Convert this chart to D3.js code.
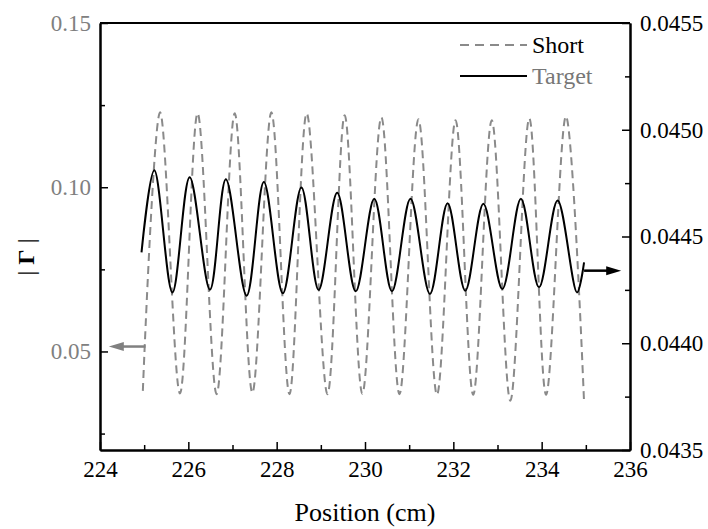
<!DOCTYPE html>
<html>
<head>
<meta charset="utf-8">
<script src="https://cdn.jsdelivr.net/npm/d3@7"></script>
<style>
  body { margin: 0; background: #fff; }
  svg text { font-family: 'Liberation Serif', serif; }
</style>
</head>
<body>
<div class="container"></div>
<script>

// Short (dashed, left axis) - position in cm, |Gamma|
var shortX = [224.97, 225.36, 225.81, 226.21, 226.64, 227.05, 227.45, 227.88, 228.29, 228.68,
              229.15, 229.54, 229.94, 230.37, 230.78, 231.21, 231.63, 232.05, 232.45, 232.87,
              233.29, 233.72, 234.10, 234.55, 234.96];
var shortY = [0.0380, 0.1228, 0.0372, 0.1225, 0.0370, 0.1225, 0.0374, 0.1228, 0.0370, 0.1225,
              0.0370, 0.1219, 0.0371, 0.1213, 0.0370, 0.1207, 0.0368, 0.1204, 0.0368, 0.1204,
              0.0350, 0.1210, 0.0368, 0.1216, 0.0345];

// Target (solid, right axis)
var targetX = [224.94, 225.23, 225.64, 226.03, 226.49, 226.85, 227.32, 227.71, 228.14, 228.56,
               228.95, 229.37, 229.79, 230.21, 230.61, 231.03, 231.47, 231.87, 232.27, 232.68,
               233.11, 233.53, 233.94, 234.36, 234.80, 234.96];
var targetY = [0.044426, 0.044810, 0.044238, 0.044778, 0.044251, 0.044768, 0.044223, 0.044755, 0.044234, 0.044730,
               0.044250, 0.044705, 0.044243, 0.044677, 0.044243, 0.044677, 0.044231, 0.044656, 0.044246, 0.044653,
               0.044254, 0.044677, 0.044262, 0.044669, 0.044238, 0.044379];

var xTicks = [224, 226, 228, 230, 232, 234, 236];
var xMinor = [225, 227, 229, 231, 233, 235];
var leftTicks = [0.05, 0.10, 0.15];
var leftMinor = [0.025, 0.075, 0.125];
var rightTicks = [0.0435, 0.0440, 0.0445, 0.0450, 0.0455];
var rightMinor = [0.04375, 0.04425, 0.04475, 0.04525];

// axis arrows: [from x, to x, value]
var leftArrow = [225.03, 224.2, 0.0515];
var rightArrow = [234.96, 235.8, 0.04434];

var loadChart = function () {
    const WIDTH = 708, HEIGHT = 529;
    const M = {top: 23, right: 78, bottom: 79, left: 100};
    const INNERWIDTH = WIDTH - M.left - M.right;
    const INNERHEIGHT = HEIGHT - M.top - M.bottom;
    const GREY = '#808080';
    const FONT = 'Liberation Serif';

    var xScale = d3.scaleLinear().domain([224, 236]).range([0, INNERWIDTH]);
    var yLeft = d3.scaleLinear().domain([0.02, 0.15]).range([INNERHEIGHT, 0]);
    var yRight = d3.scaleLinear().domain([0.0435, 0.0455]).range([INNERHEIGHT, 0]);

    var svg = d3.select('.container').append('svg')
        .attr('width', WIDTH)
        .attr('height', HEIGHT);

    var g = svg.append('g')
        .attr('transform', 'translate(' + M.left + ',' + M.top + ')');

    // curves
    var shortLine = d3.line()
        .x(function (d, i) { return xScale(shortX[i]); })
        .y(function (d) { return yLeft(d); })
        .curve(d3.curveCatmullRom);

    var targetLine = d3.line()
        .x(function (d, i) { return xScale(targetX[i]); })
        .y(function (d) { return yRight(d); })
        .curve(d3.curveCatmullRom);

    g.append('path')
        .attr('d', shortLine(shortY))
        .attr('fill', 'none')
        .attr('stroke', '#8a8a8a')
        .attr('stroke-width', 2)
        .attr('stroke-dasharray', '8,5');

    g.append('path')
        .attr('d', targetLine(targetY))
        .attr('fill', 'none')
        .attr('stroke', '#000')
        .attr('stroke-width', 2);

    // arrows
    var drawArrow = function (a, yS, color) {
        var x0 = xScale(a[0]), x1 = xScale(a[1]), y = yS(a[2]);
        var dir = x1 > x0 ? 1 : -1;
        var headLen = 15, headW = 4.5;
        g.append('line')
            .attr('x1', x0).attr('x2', x1 - dir * headLen * 0.8)
            .attr('y1', y).attr('y2', y)
            .attr('stroke', color).attr('stroke-width', 2.5);
        g.append('path')
            .attr('d', 'M' + x1 + ',' + y + 'L' + (x1 - dir * headLen) + ',' + (y - headW) +
                       'L' + (x1 - dir * headLen) + ',' + (y + headW) + 'Z')
            .attr('fill', color);
    };
    drawArrow(leftArrow, yLeft, GREY);
    drawArrow(rightArrow, yRight, '#000');

    // axes
    var styleAxis = function (sel) {
        sel.attr('font-family', null).attr('font-size', 23);
        sel.selectAll('.domain').attr('stroke', '#000').attr('stroke-width', 2);
        sel.selectAll('.tick line').attr('stroke', '#000').attr('stroke-width', 1.5);
    };

    var xAxis = g.append('g')
        .attr('transform', 'translate(0,' + INNERHEIGHT + ')')
        .call(d3.axisBottom(xScale).tickValues(xTicks).tickFormat(d3.format('d'))
            .tickSizeInner(-8).tickSizeOuter(0).tickPadding(11))
        .call(styleAxis);
    xAxis.selectAll('text').attr('fill', '#000');
    g.append('g')
        .attr('transform', 'translate(0,' + INNERHEIGHT + ')')
        .call(d3.axisBottom(xScale).tickValues(xMinor).tickFormat('')
            .tickSizeInner(-5).tickSizeOuter(0))
        .call(styleAxis);

    var lAxis = g.append('g')
        .call(d3.axisLeft(yLeft).tickValues(leftTicks).tickFormat(d3.format('.2f'))
            .tickSizeInner(-8).tickSizeOuter(0).tickPadding(9))
        .call(styleAxis);
    lAxis.selectAll('text').attr('fill', GREY);
    g.append('g')
        .call(d3.axisLeft(yLeft).tickValues(leftMinor).tickFormat('')
            .tickSizeInner(-5).tickSizeOuter(0))
        .call(styleAxis);

    var rAxis = g.append('g')
        .attr('transform', 'translate(' + INNERWIDTH + ',0)')
        .call(d3.axisRight(yRight).tickValues(rightTicks).tickFormat(d3.format('.4f'))
            .tickSizeInner(-8).tickSizeOuter(0).tickPadding(10))
        .call(styleAxis);
    rAxis.selectAll('text').attr('fill', '#000');
    g.append('g')
        .attr('transform', 'translate(' + INNERWIDTH + ',0)')
        .call(d3.axisRight(yRight).tickValues(rightMinor).tickFormat('')
            .tickSizeInner(-5).tickSizeOuter(0))
        .call(styleAxis);

    // top frame line
    g.append('line')
        .attr('x1', 0).attr('x2', INNERWIDTH)
        .attr('y1', 0).attr('y2', 0)
        .attr('stroke', '#000').attr('stroke-width', 2);

    // axis titles
    svg.append('text')
        .attr('x', M.left + INNERWIDTH / 2)
        .attr('y', 521)
        .attr('text-anchor', 'middle')
        .attr('font-size', 26)
        .text('Position (cm)');

    var yt = svg.append('text')
        .attr('transform', 'translate(34,257) rotate(-90)')
        .attr('text-anchor', 'middle')
        .attr('font-size', 24);
    yt.append('tspan').text('| ');
    yt.append('tspan').attr('font-weight', 'bold').text('Γ');
    yt.append('tspan').text(' |');

    // legend
    var leg = g.append('g').attr('transform', 'translate(' + (INNERWIDTH - 170) + ',0)');
    leg.append('line')
        .attr('x1', 0).attr('x2', 67).attr('y1', 22).attr('y2', 22)
        .attr('stroke', '#8a8a8a').attr('stroke-width', 2)
        .attr('stroke-dasharray', '9,6');
    leg.append('text')
        .attr('x', 72).attr('y', 30)
        .attr('font-size', 24)
        .attr('fill', '#000')
        .text('Short');
    leg.append('line')
        .attr('x1', 0).attr('x2', 67).attr('y1', 53).attr('y2', 53)
        .attr('stroke', '#000').attr('stroke-width', 2);
    leg.append('text')
        .attr('x', 72).attr('y', 61)
        .attr('font-size', 24)
        .attr('fill', '#777')
        .text('Target');

    // force the serif face on every label
    svg.selectAll('text').style('font-family', FONT);
};

loadChart();
</script>
</body>
</html>
